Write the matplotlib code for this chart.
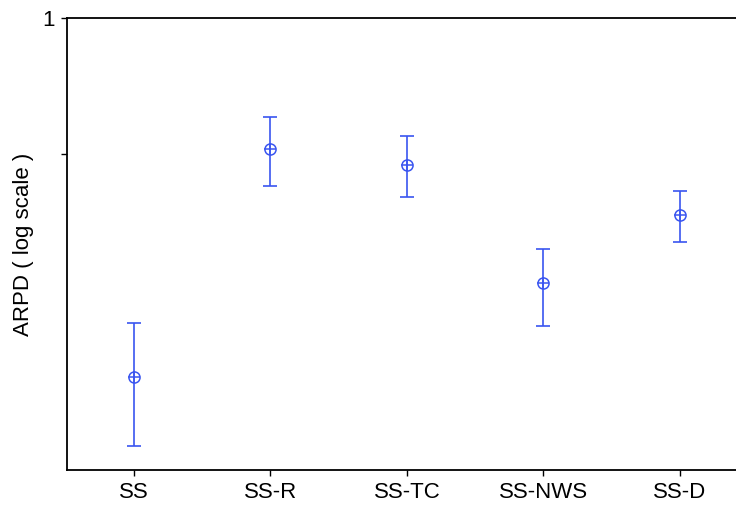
import matplotlib.pyplot as plt
from matplotlib.ticker import FixedLocator, NullLocator

# ARPD estimates per model with lower/upper interval bounds
models = ['SS', 'SS-R', 'SS-TC', 'SS-NWS', 'SS-D']
arpd = [0.161, 0.512, 0.472, 0.259, 0.367]
lower = [0.113, 0.425, 0.401, 0.208, 0.320]
upper = [0.211, 0.603, 0.547, 0.309, 0.415]

blue = '#3a55f0'

plt.rcParams['font.family'] = ['Liberation Sans', 'DejaVu Sans']

fig = plt.figure(figsize=(7.36, 5.09), dpi=100)
ax = fig.add_axes([67 / 736, 39 / 509, 1 - 67 / 736, 452 / 509])

x = list(range(len(models)))
yerr = [[a - l for a, l in zip(arpd, lower)], [u - a for a, u in zip(arpd, upper)]]
ax.errorbar(x, arpd, yerr=yerr, fmt='none', ecolor=blue, elinewidth=1.2,
            capsize=5, capthick=1.2)
ax.plot(x, arpd, linestyle='none', marker='o', markersize=8,
        markerfacecolor='none', markeredgecolor=blue, markeredgewidth=1.1)
ax.plot(x, arpd, linestyle='none', marker='+', markersize=8,
        markeredgecolor=blue, markeredgewidth=1.1)

ax.set_yscale('log')
ax.set_ylim(0.1, 1)
ax.set_xlim(-0.49, 4.41)
ax.yaxis.set_major_locator(FixedLocator([0.5, 1]))
ax.yaxis.set_minor_locator(NullLocator())
ax.set_yticklabels(['', '1'])
ax.set_xticks(x)
ax.set_xticklabels(models)

ax.spines['right'].set_visible(False)
for s in ['left', 'top', 'bottom']:
    ax.spines[s].set_linewidth(1.3)

ax.tick_params(axis='both', direction='out', length=4, width=1.0,
               labelsize=16, pad=5)
ax.set_ylabel('ARPD ( log scale )', fontsize=16, labelpad=6)

fig.savefig('out.png', dpi=100)
